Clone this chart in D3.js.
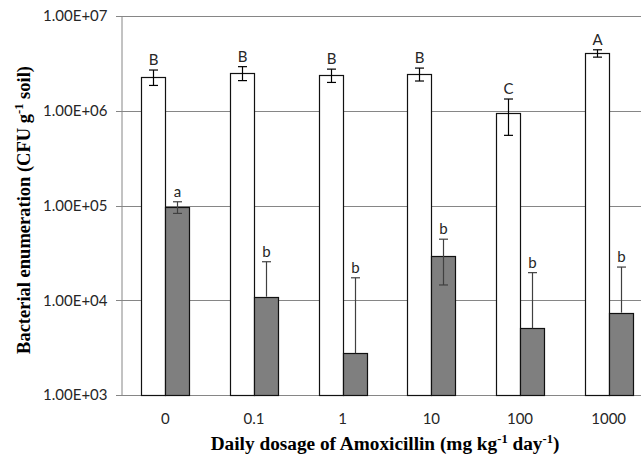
<!DOCTYPE html>
<html>
<head>
<meta charset="utf-8">
<script src="https://cdn.jsdelivr.net/npm/d3@7"></script>
<style>
  html, body { margin: 0; padding: 0; background: #fff; }
  svg { display: block; }
</style>
</head>
<body>
<svg id="chart" width="641" height="459"></svg>
<script>
// ---- data ----
const categories = ["0", "0.1", "1", "10", "100", "1000"];
const controlValues = [2.27e6, 2.50e6, 2.37e6, 2.44e6, 9.4e5, 4.04e6];
const controlErrors = [0.42e6, 0.42e6, 0.38e6, 0.38e6, 0.39e6, 0.36e6];
const controlLetters = ["B", "B", "B", "B", "C", "A"];
const treatedValues = [9.6e4, 1.09e4, 2.76e3, 2.93e4, 5.06e3, 7.4e3];
const treatedErrors = [1.35e4, 1.46e4, 1.45e4, 1.48e4, 1.45e4, 1.5e4];
const treatedLetters = ["a", "b", "b", "b", "b", "b"];
const yTicks = [1e3, 1e4, 1e5, 1e6, 1e7];

const seriesList = [
  { key: "control", values: controlValues, errors: controlErrors, letters: controlLetters, fill: "#ffffff", err: "#000000" },
  { key: "treated", values: treatedValues, errors: treatedErrors, letters: treatedLetters, fill: "#7f7f7f", err: "#404040" }
];

// ---- layout ----
const svg = d3.select("#chart");
const margin = { left: 121, top: 16, bottom: 395, right: 653 };

const x = d3.scaleBand().domain(categories).range([margin.left, margin.right]).paddingInner(0).paddingOuter(0);
const groupWidth = 48;
const xs = d3.scaleBand().domain(seriesList.map(s => s.key)).range([0, groupWidth]);
const y = d3.scaleLog().domain([1e3, 1e7]).range([margin.bottom, margin.top]);

const fmt = v => v.toExponential(2).toUpperCase().replace(/E\+(\d)$/, "E+0$1").replace(/E\+(\d\d)$/, "E+$1");

// gridlines
svg.append("g")
  .selectAll("line")
  .data(yTicks)
  .join("line")
  .attr("x1", margin.left - 5)
  .attr("x2", margin.right)
  .attr("y1", d => Math.round(y(d)) + 0.5)
  .attr("y2", d => Math.round(y(d)) + 0.5)
  .attr("stroke", "#868686")
  .attr("stroke-width", 1);

// y axis
const yAxis = d3.axisLeft(y).tickValues(yTicks).tickFormat(fmt).tickSize(0).tickPadding(14);
const gy = svg.append("g").attr("transform", `translate(${margin.left + 0.5},0)`).call(yAxis);
gy.select(".domain").attr("stroke", "#868686");
gy.selectAll("text")
  .attr("font-family", "Lato, 'Open Sans', sans-serif")
  .attr("font-size", 15)
  .attr("fill", "#262626");

// bars
seriesList.forEach(s => {
  const g = svg.append("g");
  const ox = d => x(d) + (x.bandwidth() - groupWidth) / 2 + xs(s.key);
  g.selectAll("rect")
    .data(categories)
    .join("rect")
    .attr("x", d => Math.round(ox(d)) + 0.5)
    .attr("width", xs.bandwidth())
    .attr("y", (d, i) => Math.round(y(s.values[i])) + 0.5)
    .attr("height", (d, i) => Math.round(y(1e3)) - Math.round(y(s.values[i])))
    .attr("fill", s.fill)
    .attr("stroke", "#111")
    .attr("stroke-width", 1.2);

  // error bars
  categories.forEach((c, i) => {
    const cx = Math.round(ox(c) + xs.bandwidth() / 2) + 0.5;
    const v = s.values[i], e = s.errors[i];
    const top = y(v + e);
    const low = v - e > 0 ? y(v - e) : y(v);
    const eg = svg.append("g").attr("stroke", s.err).attr("stroke-width", 1.2);
    eg.append("line").attr("x1", cx).attr("x2", cx).attr("y1", top).attr("y2", low);
    eg.append("line").attr("x1", cx - 4.5).attr("x2", cx + 4.5).attr("y1", top).attr("y2", top);
    if (v - e > 0) {
      eg.append("line").attr("x1", cx - 4.5).attr("x2", cx + 4.5).attr("y1", low).attr("y2", low);
    }
    svg.append("text")
      .attr("x", cx)
      .attr("y", top - 5)
      .attr("text-anchor", "middle")
      .attr("font-family", "Lato, 'Open Sans', sans-serif")
      .attr("font-size", 15)
      .attr("fill", "#262626")
      .text(s.letters[i]);
  });
});

// x category labels
svg.append("g")
  .selectAll("text")
  .data(categories)
  .join("text")
  .attr("x", d => x(d) + x.bandwidth() / 2)
  .attr("y", 424)
  .attr("text-anchor", "middle")
  .attr("font-family", "Lato, 'Open Sans', sans-serif")
  .attr("font-size", 15)
  .attr("fill", "#262626")
  .text(d => d);

// x axis title
const xt = svg.append("text")
  .attr("x", 385)
  .attr("y", 450)
  .attr("text-anchor", "middle")
  .attr("font-family", "'Liberation Serif', 'Times New Roman', serif")
  .attr("font-weight", "bold")
  .attr("font-size", 19.3)
  .attr("fill", "#000");
xt.append("tspan").text("Daily dosage of Amoxicillin (mg kg");
xt.append("tspan").attr("dy", -7).attr("font-size", 12.5).text("-1");
xt.append("tspan").attr("dy", 7).text(" day");
xt.append("tspan").attr("dy", -7).attr("font-size", 12.5).text("-1");
xt.append("tspan").attr("dy", 7).text(")");

// y axis title
const yt = svg.append("text")
  .attr("transform", "translate(30,210) rotate(-90)")
  .attr("text-anchor", "middle")
  .attr("font-family", "'Liberation Serif', 'Times New Roman', serif")
  .attr("font-weight", "bold")
  .attr("font-size", 18.5)
  .attr("fill", "#000");
yt.append("tspan").text("Bacterial enumeration (CFU g");
yt.append("tspan").attr("dy", -7).attr("font-size", 12.5).text("-1");
yt.append("tspan").attr("dy", 7).text(" soil)");
</script>
</body>
</html>
